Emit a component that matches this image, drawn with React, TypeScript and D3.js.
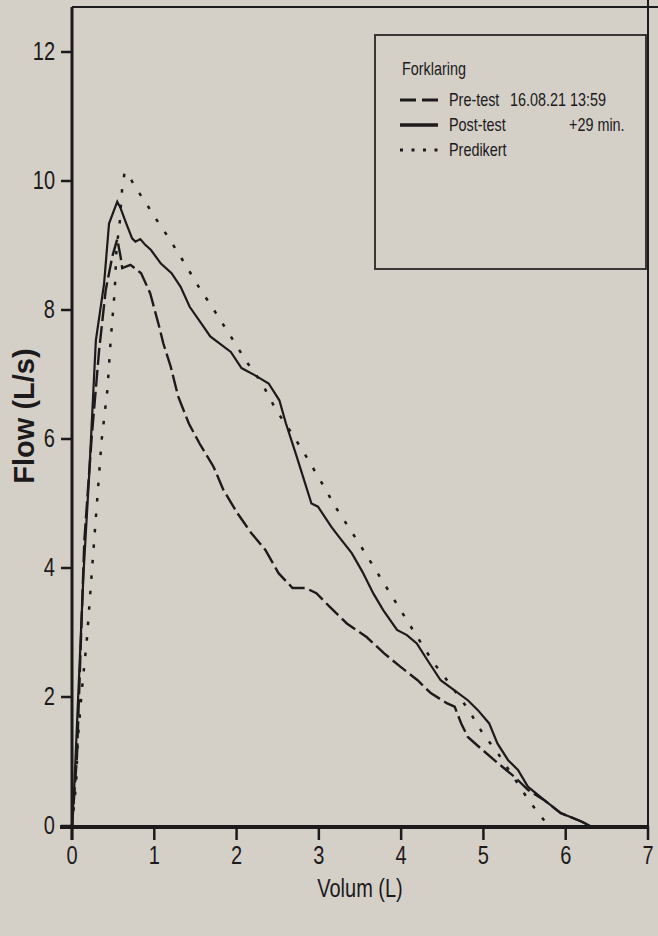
import React from "react";
import * as d3 from "d3";

// Post-test (solid)
const postVolume = [0, 0.03, 0.14, 0.21, 0.29, 0.39, 0.45, 0.55, 0.59, 0.66, 0.73, 0.77, 0.83, 0.89, 0.96, 1.08, 1.21, 1.32, 1.43, 1.6, 1.68, 1.93, 2.06, 2.22, 2.39, 2.52, 2.6, 2.73, 2.91, 2.99, 3.15, 3.24, 3.4, 3.53, 3.66, 3.78, 3.95, 4.07, 4.19, 4.32, 4.48, 4.64, 4.81, 4.93, 5.07, 5.17, 5.3, 5.42, 5.54, 5.74, 5.94, 6.19, 6.3];
const postFlow = [0, 0.67, 3.92, 5.47, 7.53, 8.41, 9.34, 9.68, 9.58, 9.34, 9.11, 9.06, 9.1, 9.01, 8.93, 8.72, 8.57, 8.36, 8.05, 7.74, 7.59, 7.35, 7.1, 6.99, 6.86, 6.6, 6.24, 5.73, 5.0, 4.95, 4.64, 4.49, 4.23, 3.94, 3.61, 3.35, 3.04, 2.96, 2.83, 2.57, 2.26, 2.11, 1.95, 1.8, 1.59, 1.28, 1.02, 0.87, 0.61, 0.4, 0.2, 0.07, 0];

// Pre-test (dashed)
const preVolume = [0, 0.06, 0.15, 0.24, 0.33, 0.41, 0.49, 0.55, 0.59, 0.61, 0.71, 0.84, 0.95, 1.06, 1.11, 1.2, 1.29, 1.42, 1.55, 1.72, 1.84, 2.01, 2.18, 2.35, 2.51, 2.68, 2.84, 2.97, 3.13, 3.34, 3.58, 3.79, 3.99, 4.2, 4.36, 4.56, 4.65, 4.73, 4.81, 4.97, 5.18, 5.38, 5.54, 5.74, 5.94, 6.19, 6.3];
const preFlow = [0, 1.07, 4.43, 6.04, 7.38, 8.31, 8.83, 9.1, 8.83, 8.65, 8.7, 8.57, 8.26, 7.74, 7.48, 7.12, 6.66, 6.24, 5.93, 5.57, 5.21, 4.85, 4.54, 4.28, 3.92, 3.69, 3.69, 3.61, 3.4, 3.14, 2.93, 2.68, 2.47, 2.26, 2.06, 1.9, 1.85, 1.59, 1.38, 1.2, 0.97, 0.76, 0.56, 0.4, 0.2, 0.07, 0];

// Predikert (dotted)
const predVolume = [0, 0.05, 0.07, 0.12, 0.18, 0.24, 0.3, 0.36, 0.43, 0.47, 0.52, 0.54, 0.58, 0.61, 0.64, 0.71, 0.79, 0.89, 0.99, 1.18, 1.37, 1.54, 1.74, 1.93, 2.12, 2.31, 2.48, 2.67, 2.86, 3.04, 3.21, 3.5, 3.69, 3.88, 4.07, 4.25, 4.4, 4.5, 4.81, 4.99, 5.19, 5.56, 5.79];
const predFlow = [0, 0.66, 1.33, 2.11, 2.88, 3.92, 4.95, 5.98, 6.76, 7.53, 8.31, 8.93, 9.37, 9.89, 10.14, 10.04, 9.86, 9.68, 9.47, 9.11, 8.72, 8.36, 7.97, 7.59, 7.2, 6.86, 6.45, 6.09, 5.7, 5.31, 4.93, 4.36, 3.97, 3.58, 3.19, 2.82, 2.52, 2.36, 1.82, 1.44, 1.1, 0.38, 0];

const xTicks = [0, 1, 2, 3, 4, 5, 6, 7];
const yTicks = [0, 2, 4, 6, 8, 10, 12];
const legendTitle = "Forklaring";
const legendLabels = ["Pre-test", "Post-test", "Predikert"];
const legendExtra = ["16.08.21 13:59", "+29 min.", ""];

const W = 658;
const H = 936;
const INK = "#1c1a1a";
const BG = "#d4d0c8";
const FONT = "'Liberation Sans', Arial, sans-serif";

type NTProps = {
  x: number;
  y: number;
  size: number;
  anchor?: "start" | "middle" | "end";
  baseline?: string;
  children: React.ReactNode;
};

// condensed (Arial Narrow-like) text
function NText({ x, y, size, anchor = "start", baseline, children }: NTProps) {
  return (
    <text
      transform={`translate(${x},${y}) scale(0.8,1)`}
      textAnchor={anchor}
      dominantBaseline={baseline}
      fontFamily={FONT}
      fontSize={size}
      fill={INK}
    >
      {children}
    </text>
  );
}

export default function App() {
  const x = d3.scaleLinear().domain([0, 7]).range([72, 648]);
  const y = d3.scaleLinear().domain([0, 12]).range([826, 52]);
  const top = 7;

  const line = d3
    .line<[number, number]>()
    .x((d) => x(d[0]))
    .y((d) => y(d[1]));

  const zip = (a: number[], b: number[]) => a.map((v, i) => [v, b[i]] as [number, number]);
  const postPath = line(zip(postVolume, postFlow)) || "";
  const prePath = line(zip(preVolume, preFlow)) || "";
  const predPath = line(zip(predVolume, predFlow)) || "";

  const lg = { x: 375, y: 35, w: 271, h: 234 };
  const rowY = [106, 131, 156];

  return (
    <svg
      width={W}
      height={H}
      style={{ position: "absolute", left: 0, top: 0, background: BG }}
    >
      <rect x={0} y={0} width={W} height={H} fill={BG} />

      {/* frame */}
      <line x1={x(0)} y1={top} x2={W} y2={top} stroke={INK} strokeWidth={2.2} />
      <line x1={x(7)} y1={0} x2={x(7)} y2={y(0)} stroke={INK} strokeWidth={2} />

      {/* curves */}
      <path d={predPath} fill="none" stroke={INK} strokeWidth={2.5} strokeDasharray="3.5 12" />
      <path d={prePath} fill="none" stroke={INK} strokeWidth={2.4} strokeDasharray="17 5" />
      <path d={postPath} fill="none" stroke={INK} strokeWidth={2.2} />

      {/* axes */}
      <line x1={x(0)} y1={top} x2={x(0)} y2={y(0) + 14} stroke={INK} strokeWidth={3} />
      <line x1={x(0) - 12} y1={y(0) + 1} x2={x(7)} y2={y(0) + 1} stroke={INK} strokeWidth={4} />
      {yTicks.map((t) => (
        <g key={"y" + t}>
          <line x1={x(0) - 11} y1={y(t)} x2={x(0)} y2={y(t)} stroke={INK} strokeWidth={2.5} />
          <NText x={x(0) - 17} y={y(t)} size={25} anchor="end" baseline="central">
            {t}
          </NText>
        </g>
      ))}
      {xTicks.map((t) => (
        <g key={"x" + t}>
          <line x1={x(t)} y1={y(0)} x2={x(t)} y2={y(0) + 14} stroke={INK} strokeWidth={2.5} />
          <NText x={x(t)} y={y(0) + 38} size={25} anchor="middle">
            {t}
          </NText>
        </g>
      ))}
      <NText x={(x(0) + x(7)) / 2} y={y(0) + 71} size={25} anchor="middle">
        Volum (L)
      </NText>
      <text
        transform={`translate(34, 416) rotate(-90)`}
        textAnchor="middle"
        fontFamily={FONT}
        fontWeight="bold"
        fontSize={29}
        fill={INK}
      >
        Flow (L/s)
      </text>

      {/* legend */}
      <rect x={lg.x} y={lg.y} width={lg.w} height={lg.h} fill="none" stroke="#2a2727" strokeWidth={1.8} />
      <NText x={402} y={75} size={18}>
        {legendTitle}
      </NText>
      {legendLabels.map((lab, i) => (
        <g key={lab}>
          <line
            x1={400}
            x2={438}
            y1={rowY[i] - 6}
            y2={rowY[i] - 6}
            stroke={INK}
            strokeWidth={i === 1 ? 3.5 : 3}
            strokeDasharray={i === 0 ? "16 6" : i === 2 ? "3 8.5" : undefined}
          />
          <NText x={449} y={rowY[i]} size={18}>
            {lab}
          </NText>
          {legendExtra[i] && (
            <NText x={i === 0 ? 510 : 569} y={rowY[i]} size={18}>
              {legendExtra[i]}
            </NText>
          )}
        </g>
      ))}
    </svg>
  );
}
